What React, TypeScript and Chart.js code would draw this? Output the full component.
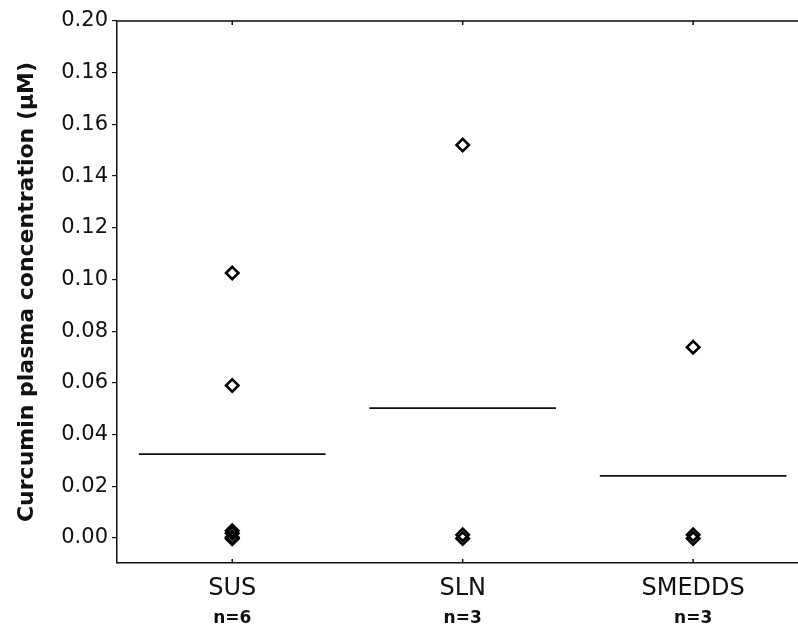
import React, { useEffect, useRef } from "react";
import { Chart, registerables } from "chart.js";

Chart.register(...registerables);

const categories = ["SUS", "SLN", "SMEDDS"];
const groupSizes = ["n=6", "n=3", "n=3"];
const susValues = [0.1025, 0.059, 0.0028, 0.0018, 0.0003, -0.0003];
const slnValues = [0.152, 0.0012, -0.0002];
const smeddsValues = [0.0738, 0.0012, -0.0002];
const meanValues = [0.0324, 0.0502, 0.024];
const yTicks = [0, 0.02, 0.04, 0.06, 0.08, 0.1, 0.12, 0.14, 0.16, 0.18, 0.2];
const xTicks = [1, 2, 3];

const groups = [susValues, slnValues, smeddsValues];
const HALF = 0.405;
const FONT = "'DejaVu Sans', Verdana, sans-serif";

export default function App() {
  const ref = useRef<HTMLCanvasElement | null>(null);
  useEffect(() => {
    if (!ref.current) return;
    const scatterData = groups.flatMap((vals, i) => vals.map((v) => ({ x: i + 1, y: v })));
    const meanSets = meanValues.map((m, i) => ({
      type: "line" as const,
      data: [
        { x: i + 1 - HALF, y: m },
        { x: i + 1 + HALF, y: m },
      ],
      borderColor: "#111",
      borderWidth: 1.8,
      pointRadius: 0,
      fill: false,
    }));
    const frame = {
      id: "frame",
      afterDraw(chart: any) {
        const { ctx, chartArea, scales } = chart;
        ctx.save();
        ctx.strokeStyle = "#444";
        ctx.lineWidth = 2;
        ctx.beginPath();
        ctx.moveTo(chartArea.left, chartArea.top);
        ctx.lineTo(chartArea.right, chartArea.top);
        ctx.stroke();
        ctx.strokeStyle = "#111";
        ctx.lineWidth = 1.5;
        xTicks.forEach((t) => {
          const px = scales.x.getPixelForValue(t);
          ctx.beginPath();
          ctx.moveTo(px, chartArea.bottom);
          ctx.lineTo(px, chartArea.bottom - 4);
          ctx.moveTo(px, chartArea.top);
          ctx.lineTo(px, chartArea.top + 4);
          ctx.stroke();
        });
        ctx.restore();
      },
    };
    const chart = new Chart(ref.current, {
      type: "scatter",
      data: {
        datasets: [
          {
            data: scatterData,
            pointStyle: "rectRot",
            pointRadius: 6.2,
            pointBorderWidth: 2.6,
            pointBorderColor: "#000",
            pointBackgroundColor: "rgba(0,0,0,0)",
            showLine: false,
          } as any,
          ...meanSets,
        ],
      },
      options: {
        animation: false,
        responsive: false,
        maintainAspectRatio: false,
        layout: { autoPadding: false, padding: { top: 21, right: 0, left: 0, bottom: 0 } },
        plugins: { legend: { display: false }, tooltip: { enabled: false } },
        scales: {
          x: {
            type: "linear",
            position: "bottom",
            weight: 0,
            min: 0.5,
            max: 3.455,
            afterBuildTicks: (s: any) => {
              s.ticks = xTicks.map((v) => ({ value: v }));
            },
            afterFit: (s: any) => {
              s.height = 42;
              s.paddingLeft = 0;
              s.paddingRight = 0;
            },
            grid: { display: false, drawTicks: false },
            border: { display: true, color: "#111", width: 1.5 },
            ticks: {
              padding: 11,
              color: "#111",
              font: { family: FONT, size: 24 },
              callback: (v: any) => categories[Number(v) - 1] ?? "",
              maxRotation: 0,
              autoSkip: false,
            },
          },
          x2: {
            type: "linear",
            position: "bottom",
            weight: 1,
            min: 0.5,
            max: 3.455,
            afterBuildTicks: (s: any) => {
              s.ticks = xTicks.map((v) => ({ value: v }));
            },
            afterFit: (s: any) => {
              s.height = 26;
              s.paddingLeft = 0;
              s.paddingRight = 0;
            },
            grid: { display: false, drawTicks: false },
            border: { display: false },
            ticks: {
              padding: 3,
              color: "#111",
              font: { family: FONT, size: 17, weight: "bold" },
              callback: (v: any) => groupSizes[Number(v) - 1] ?? "",
              maxRotation: 0,
              autoSkip: false,
            },
          },
          y: {
            type: "linear",
            min: -0.0097,
            max: 0.2,
            afterBuildTicks: (s: any) => {
              s.ticks = yTicks.map((v) => ({ value: v }));
            },
            afterFit: (s: any) => {
              s.width = 117;
            },
            grid: {
              display: true,
              drawOnChartArea: false,
              drawTicks: true,
              tickLength: 5,
              color: "#111",
              lineWidth: 1.2,
            },
            border: { display: true, color: "#111", width: 1.5 },
            ticks: {
              padding: 4,
              color: "#111",
              font: { family: FONT, size: 21 },
              callback: (v: any) => Number(v).toFixed(2),
            },
            title: {
              display: true,
              text: "Curcumin plasma concentration (µM)",
              color: "#111",
              font: { family: FONT, size: 22, weight: "bold" },
              padding: { top: 14, bottom: 0 },
            },
          },
        },
      },
      plugins: [frame],
    } as any);
    return () => chart.destroy();
  }, []);
  return (
    <div style={{ position: "absolute", left: 0, top: 0, width: 798, height: 631, background: "#fff" }}>
      <canvas ref={ref} width={798} height={631} style={{ display: "block" }} />
    </div>
  );
}
